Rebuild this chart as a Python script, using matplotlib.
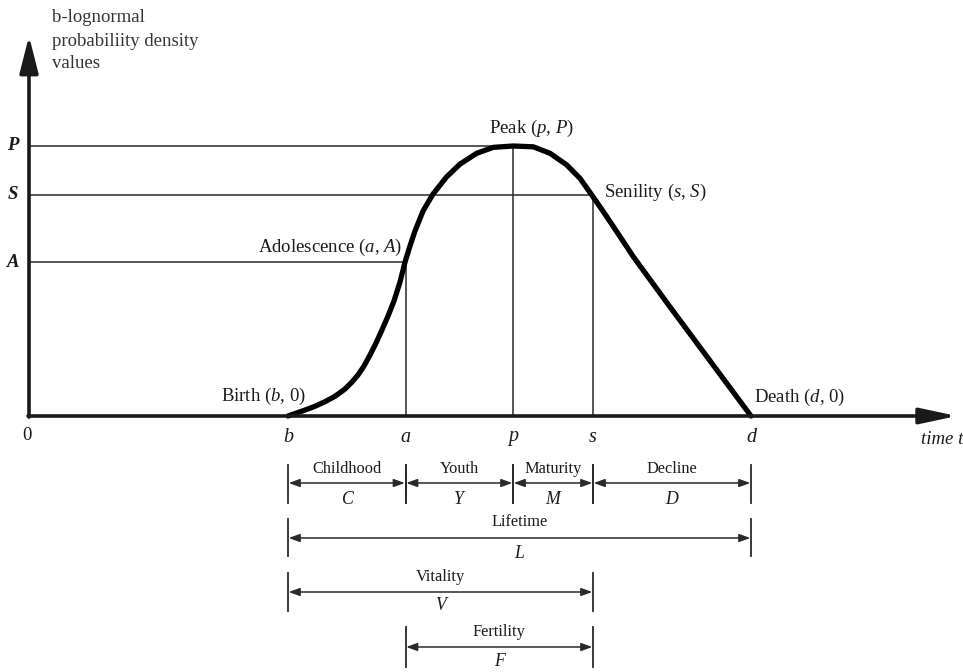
import matplotlib
matplotlib.use("Agg")
import matplotlib.pyplot as plt

plt.rcParams['font.family'] = ['Liberation Serif', 'DejaVu Serif']
plt.rcParams['mathtext.fontset'] = 'custom'
plt.rcParams['mathtext.rm'] = 'Liberation Serif'
plt.rcParams['mathtext.it'] = 'Liberation Serif:italic'
plt.rcParams['mathtext.bf'] = 'Liberation Serif:bold'

# ---------------- data ----------------
# b-lognormal curve (time, density normalised to peak = 1)
curve_t = [259, 266, 276, 286, 296, 306, 316, 323, 329, 335, 341, 347, 353,
           359, 365, 371, 376, 381, 386, 394, 404, 417.7, 431, 447.7, 464.3,
           484.3, 504.3, 521, 537.7, 551, 562.7, 574.3, 587.7, 604.3, 641, 722]
curve_y = [0.0, 0.009, 0.022, 0.036, 0.053, 0.073, 0.100, 0.126, 0.152, 0.185,
           0.226, 0.270, 0.319, 0.370, 0.426, 0.496, 0.570, 0.630, 0.685, 0.759,
           0.822, 0.886, 0.933, 0.973, 0.995, 1.0, 0.997, 0.973, 0.930, 0.880,
           0.819, 0.757, 0.683, 0.590, 0.404, 0.0]

# key times (b, a, p, s, d) and key values
time_names = ['b', 'a', 'p', 's', 'd']
time_vals = [259, 376.5, 484, 564, 722]
T = dict(zip(time_names, time_vals))
level_names = ['P', 'S', 'A']
level_vals = [1.0, 0.819, 0.570]
L = dict(zip(level_names, level_vals))

# period rows: (label, symbol, start, end)
row1 = [('Childhood', 'C', 'b', 'a'), ('Youth', 'Y', 'a', 'p'),
        ('Maturity', 'M', 'p', 's'), ('Decline', 'D', 's', 'd')]
row2 = [('Lifetime', 'L', 'b', 'd')]
row3 = [('Vitality', 'V', 'b', 's')]
row4 = [('Fertility', 'F', 'a', 's')]
rows = [row1, row2, row3, row4]

# ---------------- figure ----------------
W, H = 963, 672
fig = plt.figure(figsize=(W / 100, H / 100), dpi=100)
ax = fig.add_axes([0, 0, 1, 1])
X0, Y0, YS = 29, 416, 270.0          # pixel origin and scale
ax.set_xlim(-X0, W - X0)
ax.set_ylim((Y0 - H) / YS, Y0 / YS)
ax.axis('off')


def py(p):
    return (Y0 - p) / YS


def px(p):
    return p - X0


ink = '#1a1a1a'
thin = '#2a2a2a'
FS = 13.5
FS2 = 11.8

# axes with arrows
ax.annotate('', xy=(px(957), 0), xytext=(-1, 0),
            arrowprops=dict(arrowstyle='-|>,head_length=1.5,head_width=0.32',
                            lw=2.6, color=ink, mutation_scale=15,
                            shrinkA=0, shrinkB=0), zorder=5)
ax.annotate('', xy=(0, py(36)), xytext=(0, -0.004),
            arrowprops=dict(arrowstyle='-|>,head_length=1.5,head_width=0.38',
                            lw=2.6, color=ink, mutation_scale=15,
                            shrinkA=0, shrinkB=0), zorder=5)

# reference lines
for nm, t in [('P', 'p'), ('S', 's'), ('A', 'a')]:
    ax.plot([0, T[t]], [L[nm], L[nm]], color=thin, lw=1.1, zorder=2)
    ax.plot([T[t], T[t]], [0, L[nm]], color=thin, lw=1.1, zorder=2)

# curve
ax.plot(curve_t, curve_y, color='black', lw=3.8, solid_capstyle='round',
        solid_joinstyle='round', zorder=4)

# y labels
for nm in level_names:
    ax.text(px(13), L[nm], nm, fontsize=FS, style='italic', weight='bold',
            ha='center', va='center', color=ink)
ax.text(px(52), py(17), 'b-lognormal', fontsize=FS, ha='left', va='center', color='#333')
ax.text(px(52), py(41), 'probabiliity density', fontsize=FS, ha='left', va='center', color='#333')
ax.text(px(52), py(64), 'values', fontsize=FS, ha='left', va='center', color='#333')

# x labels
ax.text(px(27), py(436), '0', fontsize=FS, ha='center', va='center', color=ink)
for nm in time_names:
    ax.text(T[nm], py(437), nm, fontsize=FS + 1, style='italic', ha='center',
            va='center', color=ink)
ax.text(px(921), py(440), 'time t', fontsize=FS, style='italic', ha='left',
        va='center', color=ink)

# point labels
ax.text(T['p'] + 18, py(128), 'Peak ($p$, $P$)', fontsize=FS, ha='center',
        va='center', color=ink)
ax.text(T['s'] + 11, L['S'] + 0.008, 'Senility ($s$, $S$)', fontsize=FS,
        ha='left', va='center', color=ink)
ax.text(T['a'] - 3, py(247), 'Adolescence ($a$, $A$)', fontsize=FS,
        ha='right', va='center', color=ink)
ax.text(T['b'] + 18, py(396), 'Birth ($b$, 0)', fontsize=FS, ha='right',
        va='center', color=ink)
ax.text(T['d'] + 3, py(397), 'Death ($d$, 0)', fontsize=FS, ha='left',
        va='center', color=ink)

# period dimension rows: (arrow y, tick top, tick bottom, label y, symbol y)
row_geom = [(483, 465, 503, 469, 499),
            (538, 519, 556, 522, 553),
            (592, 573, 611, 577, 606),
            (647, 627, 667, 632, 661)]
for row, (ya, tt, tb, yl, ysym) in zip(rows, row_geom):
    for lab, sym, s0, s1 in row:
        x0, x1 = T[s0], T[s1]
        for xv in (x0, x1):
            ax.plot([xv, xv], [py(tt), py(tb)], color=thin, lw=1.3, zorder=3)
        ax.annotate('', xy=(x1, py(ya)), xytext=(x0, py(ya)),
                    arrowprops=dict(arrowstyle='<|-|>,head_length=0.55,head_width=0.2',
                                    lw=1.1, color=thin, mutation_scale=12,
                                    shrinkA=0.5, shrinkB=0.5))
        xm = (x0 + x1) / 2
        ax.text(xm, py(yl), lab, fontsize=FS2, ha='center', va='center', color=ink)
        ax.text(xm, py(ysym), sym, fontsize=FS2 + 1, style='italic', ha='center',
                va='center', color=ink)

fig.savefig('out.png', dpi=100)
